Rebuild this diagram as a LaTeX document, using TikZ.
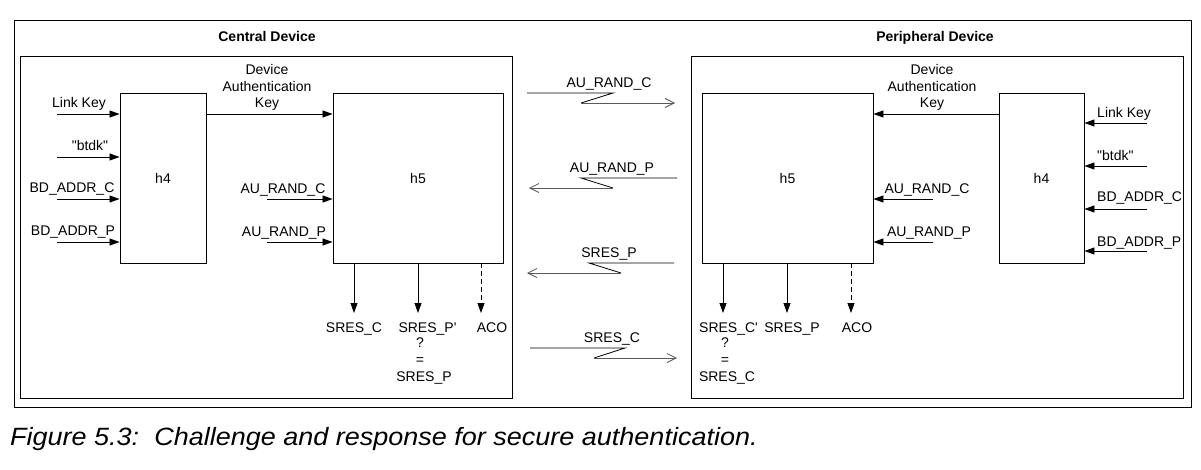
\documentclass[tikz,border=0pt]{standalone}
\usepackage{fontspec}
\newfontfamily\diagfont{Liberation Sans}
\usetikzlibrary{arrows.meta}

\begin{document}
\begin{tikzpicture}[x=1pt, y=-1pt,
  font=\diagfont\fontsize{14}{16.5}\selectfont,
  frame/.style={draw, line width=0.9pt},
  func/.style={draw, line width=0.9pt, minimum height=170pt, inner sep=0pt},
  sig/.style={-{Triangle[length=10pt,width=7pt]}, line width=0.8pt},
  acolink/.style={dash pattern=on 5pt off 3pt},
  msg/.style={line width=0.8pt},
  msgtip/.style={-{Straight Barb[length=9pt,width=9pt]}, line width=0.8pt, gray!70!black},
  txt/.style={anchor=base, inner sep=0pt},
  title/.style={anchor=base, inner sep=0pt, font=\diagfont\bfseries\fontsize{14}{16.5}\selectfont},
]
  \useasboundingbox (0,0) rectangle (1201,469);

  % frames
  \draw[frame] (14,20) rectangle (1191,407);
  \draw[frame] (20.5,56.5) rectangle (512,398);
  \draw[frame] (691,56.5) rectangle (1183,398);
  \node[title] (ctitle) at (267,41) {Central Device};
  \node[title] (ptitle) at (935,41) {Peripheral Device};

  % central device
  \node[func, minimum width=86pt] (ch4) at (163,178) {h4};
  \node[func, minimum width=170pt] (ch5) at (418,178) {h5};
  \foreach \n/\y/\lx/\txt in {1/114/79/Link Key, 2/157/90/"btdk",
                              3/199/72/BD\_ADDR\_C, 4/242/73/BD\_ADDR\_P} {
    \coordinate (cin\n) at (57,\y);
    \draw[sig] (cin\n) -- (ch4.west |- cin\n);
    \node[txt] (cinl\n) at (\lx,\y-6.5) {\txt};
  }
  \draw[sig] (ch4.east |- cin1) -- (ch5.west |- cin1);
  \node[align=center, inner sep=0pt] (cdak) at (267,87.5) {Device\\Authentication\\Key};
  \foreach \n/\y/\lx/\s in {1/199/283/C, 2/242/284/P} {
    \coordinate (crnd\n) at (267,\y);
    \draw[sig] (crnd\n) -- (ch5.west |- crnd\n);
    \node[txt] (crndl\n) at (\lx,\y-6) {AU\_RAND\_\s};
  }
  \foreach \n/\x/\st in {1/354/solid, 2/418/solid, 3/481/acolink} {
    \coordinate (cout\n) at (\x,313);
    \draw[sig, \st] (ch5.south -| cout\n) -- (cout\n);
  }
  \node[txt] (csresc) at (354,332) {SRES\_C};
  \node[txt] (csrespx) at (427.5,332) {SRES\_P'};
  \node[txt] (caco) at (492,332) {ACO};
  \node[txt] (cq) at (420,347) {?};
  \node[txt] (ceq) at (420,364) {=};
  \node[txt] (csresp) at (424,381) {SRES\_P};

  % peripheral device
  \node[func, minimum width=171pt] (ph5) at (787.5,178) {h5};
  \node[func, minimum width=85pt] (ph4) at (1041.5,178) {h4};
  \foreach \n/\y/\b/\txt in {1/123/117/Link Key, 2/166/160/"btdk",
                             3/209/201/BD\_ADDR\_C, 4/251/246/BD\_ADDR\_P} {
    \coordinate (pin\n) at (1147,\y);
    \draw[sig] (pin\n) -- (ph4.east |- pin\n);
    \node[txt, anchor=base west] (pinl\n) at (1097,\b) {\txt};
  }
  \draw[sig] (ph4.west |- cin1) -- (ph5.east |- cin1);
  \node[align=center, inner sep=0pt] (pdak) at (932,87.5) {Device\\Authentication\\Key};
  \foreach \n/\y/\lx/\s in {1/199/927/C, 2/242/929/P} {
    \coordinate (prnd\n) at (933,\y);
    \draw[sig] (prnd\n) -- (ph5.east |- prnd\n);
    \node[txt] (prndl\n) at (\lx,\y-6) {AU\_RAND\_\s};
  }
  \foreach \n/\x/\st in {1/723/solid, 2/787/solid, 3/851/acolink} {
    \coordinate (pout\n) at (\x,313);
    \draw[sig, \st] (ph5.south -| pout\n) -- (pout\n);
  }
  \node[txt] (psrescx) at (728.5,332) {SRES\_C'};
  \node[txt] (psresp) at (792,332) {SRES\_P};
  \node[txt] (paco) at (857,332) {ACO};
  \node[txt] (pq) at (725,347) {?};
  \node[txt] (peq) at (725,364) {=};
  \node[txt] (psresc) at (727,381) {SRES\_C};

  % air messages
  \foreach \n/\sx/\sy/\tx/\kx/\ex/\lx/\txt in {
      1/527/93/613/581/675/609/AU\_RAND\_C,
      2/677/178/581/613/529/612/AU\_RAND\_P,
      3/674/263/589/621/527/609/SRES\_P,
      4/530/348/625/594/677/612/SRES\_C} {
    \coordinate (m\n s) at (\sx,\sy);
    \coordinate (m\n e) at (\ex,\sy+10);
    \draw[msg] (m\n s) -- (\tx,\sy) -- (\kx,\sy+10) coordinate (m\n k);
    \draw[msgtip] (m\n k) -- (m\n e);
    \node[txt] (m\n l) at (\lx,\sy-6) {\txt};
  }

  \node[anchor=base west, inner sep=0pt, xscale=1.08,
        font=\diagfont\itshape\fontsize{25}{29}\selectfont]
    (caption) at (10,445) {Figure 5.3:\ \ Challenge and response for secure authentication.};
\end{tikzpicture}
\end{document}
